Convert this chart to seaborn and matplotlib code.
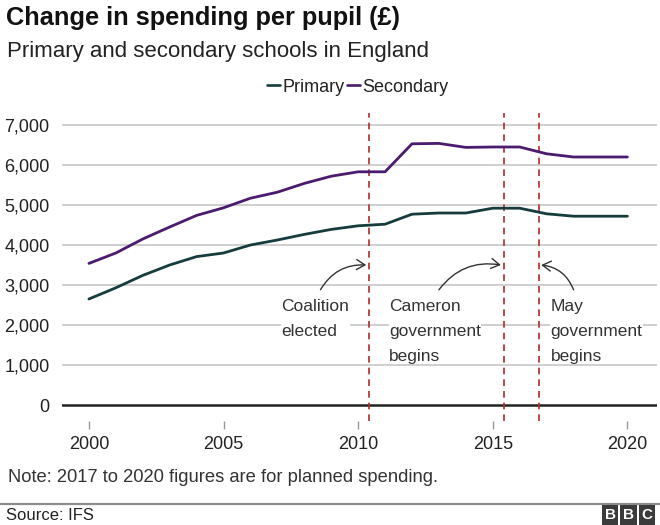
import numpy as np
import pandas as pd
import matplotlib
matplotlib.use("Agg")
import matplotlib.pyplot as plt
from matplotlib.lines import Line2D
import seaborn as sns

years = list(range(2000, 2021))
primary = [2650, 2930, 3240, 3500, 3710, 3800, 4000, 4125, 4265, 4390, 4480, 4520,
           4770, 4800, 4800, 4920, 4920, 4780, 4720, 4720, 4720]
secondary = [3540, 3800, 4150, 4450, 4740, 4930, 5170, 5320, 5540, 5720, 5830, 5830,
             6530, 6540, 6440, 6450, 6450, 6280, 6200, 6200, 6200]
series_names = ["Primary", "Secondary"]
series_colors = ["#163c3e", "#4a1b6f"]
yticks = [0, 1000, 2000, 3000, 4000, 5000, 6000, 7000]
xticks = [2000, 2005, 2010, 2015, 2020]
events = [2010.4, 2015.4, 2016.7]
event_labels = ["Coalition\nelected", "Cameron\ngovernment\nbegins", "May\ngovernment\nbegins"]

df = pd.DataFrame({
    "Year": years * 2,
    "Spending": primary + secondary,
    "Phase": ["Primary"] * len(years) + ["Secondary"] * len(years),
})

sns.set_theme(style="white")
plt.rcParams["font.family"] = ["Liberation Sans", "DejaVu Sans"]

fig = plt.figure(figsize=(6.6, 5.25), dpi=100)
ax = fig.add_axes([62/660, 1-421/525, (657-62)/660, (421-113)/525])

sns.lineplot(data=df, x="Year", y="Spending", hue="Phase", hue_order=series_names,
             palette=series_colors, linewidth=2.0, ax=ax, legend=False)

ax.set_xlim(1999.0, 2021.1)
ax.set_ylim(-400, 7300)
ax.set_yticks(yticks)
ax.set_yticklabels([f"{v:,}" for v in yticks])
ax.set_xticks(xticks)
ax.set_xticklabels([str(v) for v in xticks])
for y in yticks[1:]:
    ax.axhline(y, color="#cccccc", lw=1.3, zorder=0)
ax.axhline(0, color="#222222", lw=1.8, zorder=1)
for e in events:
    ax.axvline(e, color="#b22a2a", lw=1.2, ls=(0, (4, 3)), zorder=1)

for s in ax.spines.values():
    s.set_visible(False)
ax.tick_params(axis="y", length=0, pad=9, labelsize=13, labelcolor="#222222")
ax.tick_params(axis="x", length=6, width=1, color="#999999", direction="out", pad=5,
               labelsize=13, labelcolor="#222222", bottom=True)
ax.set_xlabel("")
ax.set_ylabel("")

# annotations
text_pos = [(2007.15, 2660), (2011.15, 2660), (2017.15, 2660)]
arrow_from = [(2008.6, 2880), (2013.0, 2880), (2018.0, 2880)]
arrow_to = [(2010.3, 3500), (2015.3, 3500), (2016.8, 3500)]
rads = [-0.3, -0.3, 0.3]
for lab, tp, af, at, r in zip(event_labels, text_pos, arrow_from, arrow_to, rads):
    ax.text(tp[0], tp[1], lab, ha="left", va="top", fontsize=12.5, color="#333333",
            linespacing=1.85, bbox=dict(facecolor="white", edgecolor="none", pad=0.3), zorder=3)
    ax.annotate("", xy=at, xytext=af,
                arrowprops=dict(arrowstyle="->,head_length=0.5,head_width=0.3", color="#333333", lw=1.0,
                                connectionstyle=f"arc3,rad={r}", shrinkA=0, shrinkB=0))

# legend
handles = [Line2D([0], [0], color=c, lw=1.9) for c in series_colors]
fig.legend(handles, series_names, loc="center", bbox_to_anchor=(358/660, 1-87/525),
           ncol=2, frameon=False, fontsize=13, handlelength=0.7, handletextpad=0.15,
           columnspacing=0.15, borderpad=0, labelcolor="#222222")

fig.text(6/660, 1-18/525, "Change in spending per pupil (£)", fontsize=18.3, fontweight="bold",
         ha="left", va="center", color="#111111")
fig.text(7/660, 1-52/525, "Primary and secondary schools in England", fontsize=16,
         ha="left", va="center", color="#222222")
fig.text(8/660, 1-477/525, "Note: 2017 to 2020 figures are for planned spending.", fontsize=13.2,
         ha="left", va="center", color="#333333")
fig.add_artist(Line2D([0, 1], [1-504/525, 1-504/525], color="#8c8c8c", lw=1.6))
fig.text(6/660, 1-516/525, "Source: IFS", fontsize=12, ha="left", va="center", color="#222222")
for i, ch in enumerate("BBC"):
    fig.text((610 + i*18.5)/660, 1-515/525, ch, fontsize=11, fontweight="bold", color="white",
             ha="center", va="center",
             bbox=dict(facecolor="#3b3b3b", edgecolor="none", boxstyle="square,pad=0.18"))

fig.savefig("out.png", dpi=100, facecolor="white")
